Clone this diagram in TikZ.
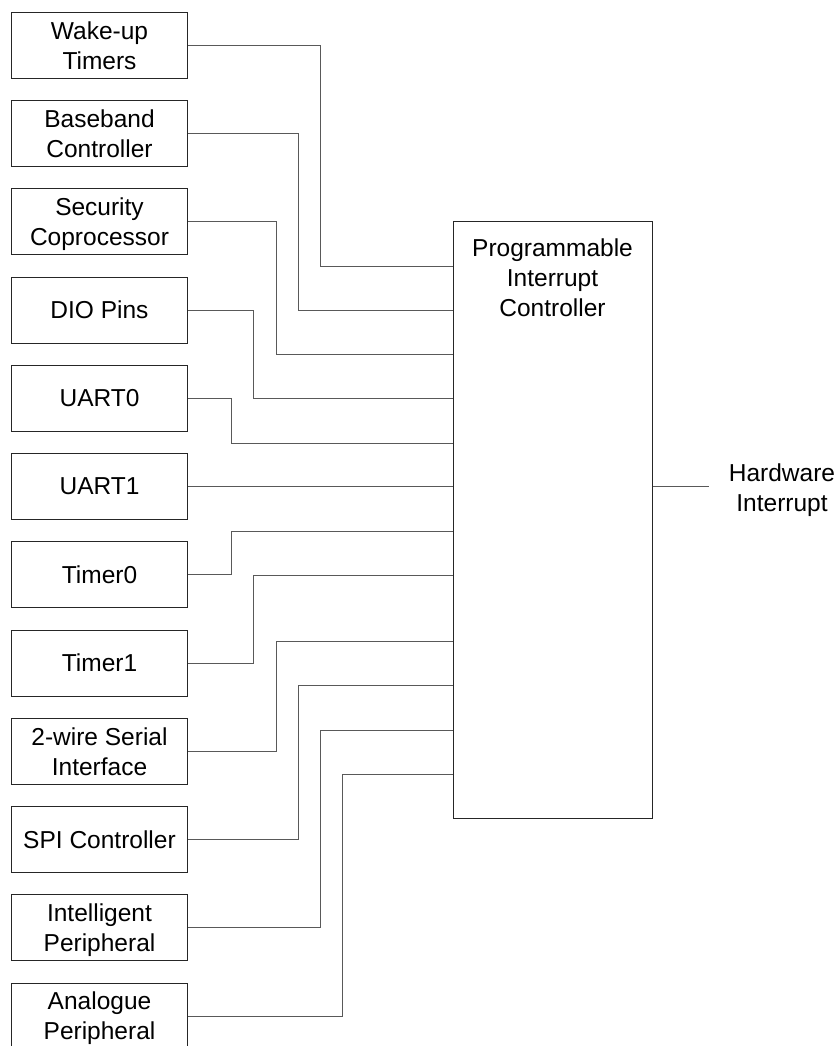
\documentclass[tikz,border=0pt]{standalone}
\usepackage{fontspec}
\setmainfont{Liberation Sans}
\newcommand\blkfont{\fontsize{24.5}{30}\selectfont}
\tikzset{
  blk/.style={draw=black!85, line width=1pt, minimum width=176.5pt, minimum height=66pt,
    inner sep=0pt, align=center, text depth=0pt, font=\blkfont},
  wire/.style={draw=black!65, line width=1pt},
  lbl/.style={inner sep=0pt, align=center, font=\blkfont}
}
\begin{document}
\begin{tikzpicture}[x=1pt,y=-1pt]
\useasboundingbox (0,0) rectangle (840,1046);
% source boxes
\foreach \i/\t in {1/{Wake-up\\Timers},2/{Baseband\\Controller},3/{Security\\Coprocessor},
  4/{DIO Pins},5/{UART0},6/{UART1},7/{Timer0},8/{Timer1},9/{2-wire Serial\\Interface},
  10/{SPI Controller},11/{Intelligent\\Peripheral},12/{Analogue\\Peripheral}}{
  \node[blk] (b\i) at (99.5,{45.3+88.25*(\i-1)}) {\t};
}
% controller
\node[draw=black!85, line width=1pt, minimum width=199pt, minimum height=597pt, inner sep=0pt] (pic) at (552.5,519.5) {};
\node[lbl, anchor=north] (pictext) at (552.5,238.5) {Programmable\\Interrupt\\Controller};
% inputs
\foreach \i/\x/\y in {1/320/266,2/298.3/310.3,3/276/354,4/253.5/398.5,5/231/443,6/231/486.55,
  7/231/531.3,8/253.5/575.3,9/276/641.3,10/298/685.5,11/320/730,12/342/774}{
  \coordinate (c\i) at (\x,\y);
  \coordinate (in\i) at (pic.west |- c\i);
  \draw[wire] (b\i.east) -| (c\i) -- (in\i);
}
% output
\node[lbl, anchor=north] (hw) at (782,463.5) {Hardware\\Interrupt};
\coordinate (hwend) at (709,486.7);
\draw[wire] (pic.east |- hwend) -- (hwend);
\end{tikzpicture}
\end{document}
